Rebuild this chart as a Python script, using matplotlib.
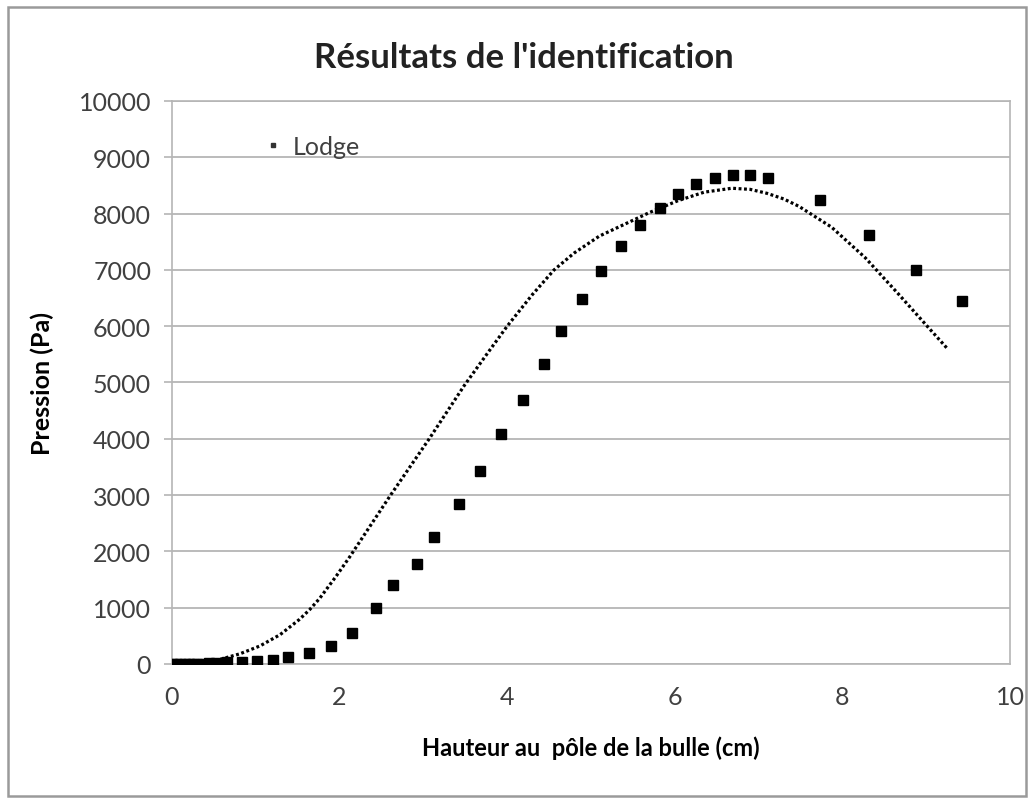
import matplotlib

matplotlib.use("Agg")
import matplotlib.pyplot as plt  # noqa: E402
from matplotlib.lines import Line2D  # noqa: E402
from matplotlib.patches import Rectangle  # noqa: E402

# Measured points (squares)
mes_x = [0, 0.05, 0.1, 0.15, 0.2, 0.25, 0.3, 0.37, 0.44, 0.52, 0.66, 0.83, 1.01,
         1.20, 1.39, 1.63, 1.90, 2.15, 2.43, 2.64, 2.92, 3.13, 3.42, 3.68, 3.93,
         4.19, 4.44, 4.64, 4.89, 5.12, 5.36, 5.58, 5.82, 6.04, 6.25, 6.48, 6.69,
         6.90, 7.11, 7.73, 8.32, 8.88, 9.43]
mes_y = [0, 0, 0, 0, 0, 0, 5, 5, 10, 15, 40, 35, 45,
         70, 125, 195, 320, 550, 1000, 1400, 1780, 2250, 2840, 3430, 4090,
         4690, 5330, 5920, 6480, 6980, 7420, 7800, 8100, 8350, 8530, 8630, 8690,
         8690, 8630, 8240, 7620, 7000, 6450]

# Lodge model curve
lodge_x = [0, 0.2, 0.4, 0.57, 0.81, 1.05, 1.29, 1.52, 1.64, 1.76, 1.96, 2.12,
           2.6, 3.07, 3.49, 3.78, 4.0, 4.3, 4.56, 4.8, 5.1, 5.4, 5.7, 6.04,
           6.35, 6.68, 6.9, 7.1, 7.3, 7.48, 7.87, 8.27, 8.67, 9.0, 9.26]
lodge_y = [0, 2, 20, 80, 180, 320, 520, 790, 960, 1160, 1560, 1900,
           2980, 4000, 4950, 5550, 6000, 6560, 7000, 7300, 7600, 7810, 8020, 8230,
           8380, 8450, 8430, 8360, 8260, 8130, 7760, 7220, 6570, 6020, 5590]

plt.rcParams["font.family"] = ["Lato", "DejaVu Sans"]

fig = plt.figure(figsize=(10.31, 8.03), dpi=100)
ax = fig.add_axes([0.1668, 0.1719, 0.8128, 0.7011])

ax.plot(lodge_x, lodge_y, color="black", linewidth=2.3,
        linestyle=(0, (0.9, 0.8)), zorder=3)
ax.plot(mes_x, mes_y, linestyle="none", marker="s", markersize=7.5,
        color="black", zorder=4)

ax.set_xlim(0, 10)
ax.set_ylim(0, 10000)
ax.set_xticks(range(0, 11, 2))
ax.set_yticks(range(0, 10001, 1000))
ax.grid(axis="y", color="#b5b5b5", linewidth=1.3)
ax.set_axisbelow(True)
for s in ax.spines.values():
    s.set_color("#b5b5b5")
    s.set_linewidth(1.2)
ax.tick_params(axis="y", colors="#b5b5b5", labelcolor="#404040",
               length=6, width=1.2, pad=9, labelsize=18)
ax.tick_params(axis="x", length=0, labelcolor="#404040", pad=15, labelsize=18)

ax.set_xlabel("Hauteur au  pôle de la bulle (cm)", fontsize=17,
              fontweight="bold", labelpad=20)
ax.set_ylabel("Pression (Pa)", fontsize=18, fontweight="bold", labelpad=18)

fig.text(0.508, 0.928, "Résultats de l'identification", ha="center",
         va="center", fontsize=25, fontweight="bold", color="#222222")

handle = Line2D([], [], linestyle="none", marker="s", markersize=3,
                color="#333333")
ax.legend([handle], ["Lodge"], loc="upper left", bbox_to_anchor=(0.085, 0.98),
          frameon=False, handlelength=0.6, handletextpad=0.5, fontsize=18,
          labelcolor="#404040")

fig.patches.append(Rectangle((8 / 1031, 6 / 803), 1018 / 1031, 789 / 803,
                             transform=fig.transFigure, fill=False,
                             edgecolor="#9a9a9a", linewidth=1.8))

fig.savefig("out.png", dpi=100)
